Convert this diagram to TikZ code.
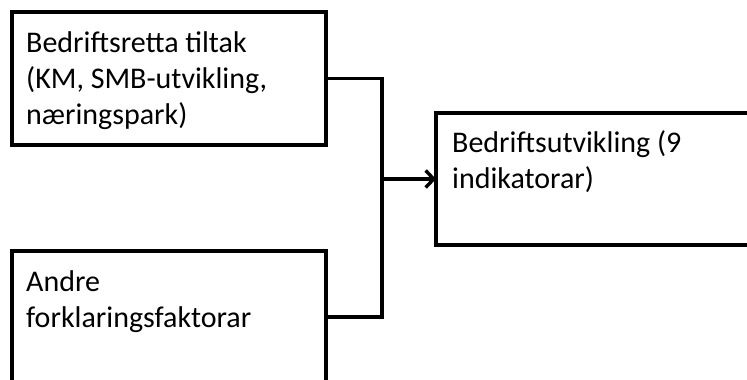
\documentclass[tikz,border=0pt]{standalone}
\usepackage{fontspec}
\setmainfont{Carlito}
\usetikzlibrary{arrows.meta}
\begin{document}
\begin{tikzpicture}[x=1pt,y=-1pt,
  box/.style={draw=black, line width=3.4pt, rectangle, inner sep=0pt, outer sep=0pt, anchor=north west},
  txt/.style={anchor=north west, inner sep=0pt, align=left, font=\fontsize{30}{36}\selectfont, text=black},
  conn/.style={draw=black, line width=3.4pt},
  arr/.style={conn, -{Straight Barb[length=8pt,width=17pt]}}]
\useasboundingbox (0,0) rectangle (747,380);
\clip (0,0) rectangle (747,380);
\node[box, minimum width=314pt, minimum height=133pt] (b1) at (12,12) {};
\node[box, minimum width=314pt, minimum height=132pt] (b2) at (12,251) {};
\node[box, minimum width=330pt, minimum height=132pt] (b3) at (436,113) {};
\node[txt] (t1) at (26,26.8) {\strut Bedriftsretta tiltak\\(KM, SMB-utvikling,\\næringspark)};
\node[txt] (t2) at (26,265.8) {\strut Andre\\forklaringsfaktorar};
\node[txt] (t3) at (452,126.8) {\strut Bedriftsutvikling (9\\indikatorar)};
\coordinate (jx) at (382,0);
\draw[conn] (b1.east) -- (b1.east -| jx) -- (b2.east -| jx) -- (b2.east);
\draw[arr] (b3.west -| jx) -- (b3.west);
\end{tikzpicture}
\end{document}
